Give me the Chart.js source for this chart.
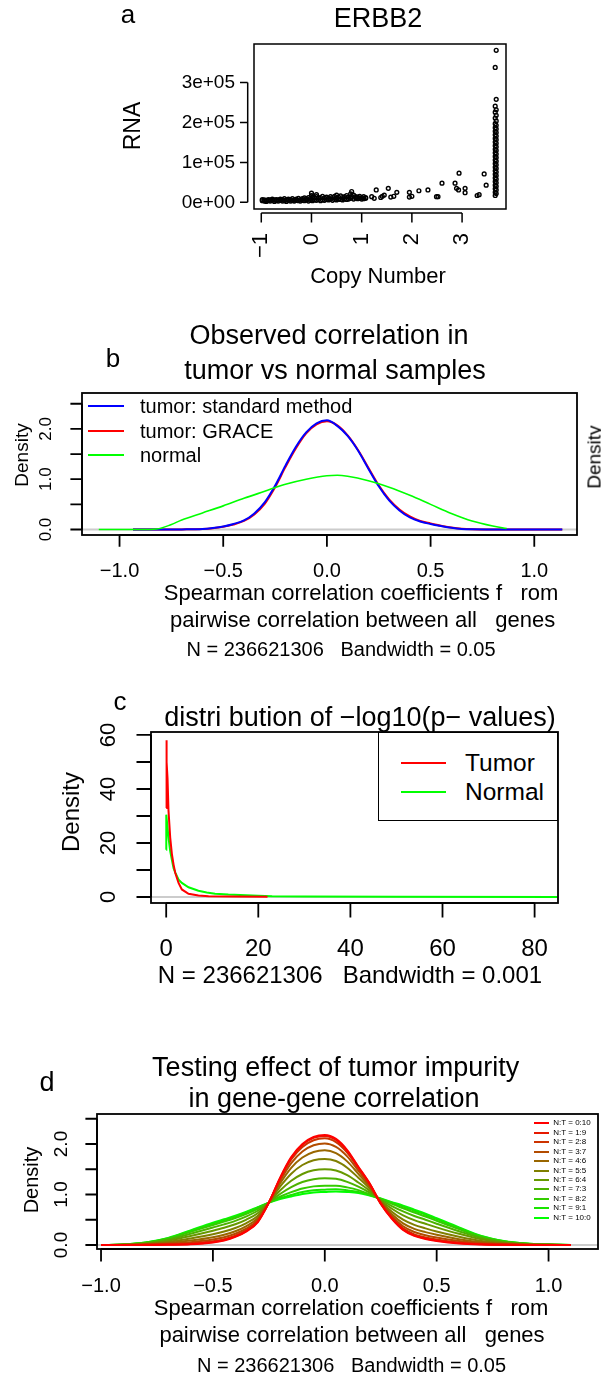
<!DOCTYPE html>
<html>
<head>
<meta charset="utf-8">
<script src="https://cdn.jsdelivr.net/npm/chart.js@4.4.1/dist/chart.umd.min.js"></script>
<style>
body { margin: 0; background: #fff; }
#page { position: relative; width: 601px; height: 1377px; overflow: hidden; font-family: "Liberation Sans", Arial, sans-serif; color: #000; }
canvas { position: absolute; left: 0; }
.t { position: absolute; white-space: pre; line-height: 1; }
.seg { position: absolute; }
</style>
</head>
<body>
<div id="page">
<canvas id="chartA" width="601" height="300" style="top:0px"></canvas>
<canvas id="chartB" width="601" height="380" style="top:300px"></canvas>
<canvas id="chartC" width="601" height="330" style="top:680px"></canvas>
<canvas id="chartD" width="601" height="367" style="top:1010px"></canvas>
</div>
<script>
// ---- panel a: ERBB2 copy number vs RNA ----
const aCopy = [
  -0.98,-0.98,-0.94,-0.94,-0.90,-0.90,-0.86,-0.86,-0.82,-0.82,-0.78,-0.78,-0.74,-0.74,-0.70,-0.70,-0.66,-0.66,-0.62,-0.62,
  -0.58,-0.58,-0.54,-0.54,-0.50,-0.50,-0.46,-0.46,-0.42,-0.42,-0.38,-0.38,-0.34,-0.34,-0.30,-0.30,-0.26,-0.26,-0.22,-0.22,
  -0.18,-0.18,-0.14,-0.14,-0.10,-0.10,-0.06,-0.06,-0.02,-0.02,
  0.00,0.00,0.00,0.02,0.02,0.06,0.06,0.10,0.10,0.10,0.14,0.14,0.18,0.18,0.22,0.22,0.26,0.26,0.30,0.30,
  0.34,0.34,0.38,0.38,0.42,0.42,0.46,0.46,0.50,0.50,0.50,0.54,0.54,0.58,0.58,0.62,0.62,0.66,0.66,0.70,0.70,
  0.74,0.74,0.78,0.78,0.80,0.80,0.84,0.84,0.88,0.88,0.92,0.92,0.96,0.96,1.00,1.00,1.04,1.04,1.08,1.08,
  1.20,1.25,1.29,1.38,1.41,1.45,1.53,1.58,1.64,1.70,1.95,1.95,2.00,2.14,2.32,2.49,2.52,2.60,2.86,2.89,
  2.93,2.94,3.06,3.06,3.30,3.34,3.44,3.48,
  3.66,3.68,3.66,3.68,3.66,3.68,3.66,3.68,3.66,3.68,3.66,3.68,3.66,3.68,3.66,3.68,3.66,3.68,3.66,3.68,
  3.66,3.68,3.66,3.68,3.66,3.68,3.66,3.68,3.66,3.68,3.66,3.68,3.66,3.68,3.66,3.68,3.66,3.68,3.66,3.68,
  3.66,3.68,3.66,3.68,3.66,3.68,3.66,3.68,3.66,3.68
];
const aRna = [
  4000,7000,3000,6000,5000,2000,4000,7000,3000,6000,5000,8000,2000,6000,4000,7000,3000,6000,5000,8000,
  3000,7000,4000,9000,2000,6000,5000,8000,3000,7000,4000,9000,3000,6000,5000,8000,4000,10000,3000,7000,
  5000,9000,4000,11000,6000,9000,3000,12000,5000,10000,
  8000,17000,23000,4000,13000,6000,11000,5000,14000,19000,7000,11000,4000,12000,6000,15000,5000,11000,7000,13000,
  6000,10000,8000,14000,5000,12000,7000,15000,6000,11000,18000,8000,13000,7000,16000,6000,12000,9000,14000,7000,17000,
  8000,13000,10000,21000,15000,27000,8000,18000,11000,14000,9000,13000,10000,15000,8000,12000,9000,14000,10000,12000,
  14000,10000,31000,12000,15000,18000,35000,13000,15000,25000,25000,13000,15000,29000,31000,14000,14000,48000,48000,35000,
  31000,73000,35000,24000,17000,19000,71000,43000,
  17000,22000,25000,31000,34000,40000,43000,49000,52000,58000,61000,67000,70000,76000,79000,85000,88000,94000,97000,103000,
  106000,112000,115000,121000,124000,130000,133000,139000,142000,148000,151000,157000,160000,166000,169000,175000,178000,184000,187000,193000,
  197000,204000,211000,218000,226000,232000,241000,258000,338000,381000
];
const aXTicks = [-1, 0, 1, 2, 3];
const aXLabels = ['\u22121', '0', '1', '2', '3'];
const aYTicks = [0, 100000, 200000, 300000];
const aYLabels = ['0e+00', '1e+05', '2e+05', '3e+05'];

// ---- panel b: observed correlation densities ----
const bGridX = [-0.935,-0.9,-0.8,-0.7,-0.6,-0.55,-0.5,-0.45,-0.4,-0.35,-0.3,-0.25,-0.2,-0.15,-0.1,-0.05,0,
  0.05,0.1,0.15,0.2,0.25,0.3,0.35,0.4,0.45,0.5,0.55,0.6,0.65,0.7,0.8,0.9,1.0,1.135];
const bStandard = [0,0,0,0.002,0.01,0.03,0.06,0.11,0.18,0.32,0.54,0.87,1.27,1.64,1.93,2.11,2.17,
  2.06,1.86,1.57,1.21,0.86,0.58,0.38,0.24,0.16,0.11,0.07,0.035,0.012,0.003,0,0,0,0];
const bGrace = [0,0,0,0.002,0.01,0.025,0.055,0.10,0.17,0.30,0.51,0.84,1.24,1.61,1.91,2.09,2.15,
  2.07,1.87,1.58,1.23,0.88,0.60,0.40,0.26,0.17,0.12,0.075,0.04,0.015,0.004,0,0,0,0];
const bNormX = [-1.1,-1.0,-0.9,-0.82,-0.75,-0.7,-0.6,-0.5,-0.4,-0.3,-0.2,-0.1,0,0.05,0.1,0.2,0.3,0.4,0.5,0.6,0.7,0.8,0.867];
const bNormal = [0,0,0,0.01,0.1,0.19,0.33,0.47,0.62,0.76,0.90,1.00,1.07,1.08,1.06,0.97,0.84,0.68,0.50,0.32,0.17,0.07,0.02];
const bXTicks = [-1, -0.5, 0, 0.5, 1];
const bXLabels = ['\u22121.0', '\u22120.5', '0.0', '0.5', '1.0'];
const bYTicks = [0, 0.5, 1, 1.5, 2, 2.5];
const bYLabels = ['0.0', '', '1.0', '', '2.0', ''];

// ---- panel c: -log10(p) densities ----
const cTumorX = [0,0.02,0.15,0.29,0.5,0.87,1.23,1.6,1.96,2.68,3.4,4.85,7.0,9.2,14,22];
const cTumorY = [33,58,50,44,32,22,16,12,9,5.2,2.8,1.2,0.6,0.3,0.15,0.05];
const cNormalX = [0,0.02,0.3,0.5,0.87,1.23,1.6,2.0,2.7,3.4,4.85,7.0,8.8,10.6,13.5,20,23,30,50,85];
const cNormalY = [17.5,30.5,25.5,22,17,13.8,10.7,8.9,6.4,5.2,3.6,2.3,1.7,1.2,0.9,0.5,0.3,0.15,0.05,0.02];
const cXTicks = [0, 20, 40, 60, 80];
const cXLabels = ['0', '20', '40', '60', '80'];
const cYTicks = [0, 10, 20, 30, 40, 50, 60];
const cYLabels = ['0', '', '20', '', '40', '', '60'];

// ---- panel d: tumor impurity mixtures ----
const dGridX = [-1.0,-0.9,-0.8,-0.7,-0.6,-0.5,-0.45,-0.4,-0.35,-0.3,-0.25,-0.2,-0.15,-0.1,-0.05,0,
  0.05,0.1,0.15,0.2,0.25,0.3,0.35,0.4,0.45,0.5,0.6,0.7,0.8,0.9,1.0,1.1];
const dMix0_10 = [0,0,0.002,0.005,0.015,0.05,0.09,0.16,0.27,0.45,0.84,1.33,1.74,2.00,2.14,2.18,2.10,1.88,1.55,1.22,0.82,0.52,0.30,0.18,0.12,0.08,0.03,0.01,0.003,0,0,0];
const dMix1_9 = [0,0,0.003,0.008,0.02,0.06,0.10,0.17,0.28,0.46,0.84,1.32,1.72,1.98,2.12,2.16,2.08,1.86,1.54,1.22,0.82,0.53,0.31,0.19,0.13,0.09,0.04,0.013,0.005,0.001,0,0];
const dMix2_8 = [0,0.001,0.005,0.013,0.032,0.073,0.115,0.185,0.293,0.468,0.84,1.305,1.693,1.941,2.074,2.112,2.038,1.83,1.519,1.206,0.826,0.54,0.329,0.211,0.15,0.107,0.049,0.02,0.008,0.002,0.001,0];
const dMix3_7 = [0,0.002,0.009,0.025,0.056,0.109,0.153,0.223,0.329,0.495,0.84,1.267,1.623,1.852,1.975,2.011,1.944,1.756,1.472,1.184,0.835,0.57,0.372,0.258,0.195,0.148,0.078,0.036,0.015,0.005,0.002,0];
const dMix4_6 = [0,0.003,0.015,0.042,0.089,0.155,0.203,0.273,0.375,0.531,0.84,1.217,1.529,1.733,1.843,1.875,1.819,1.656,1.41,1.155,0.847,0.609,0.43,0.32,0.255,0.202,0.116,0.056,0.024,0.008,0.003,0];
const dMix5_5 = [0,0.004,0.022,0.062,0.131,0.214,0.266,0.336,0.434,0.576,0.84,1.154,1.412,1.584,1.678,1.705,1.663,1.531,1.332,1.119,0.862,0.659,0.502,0.398,0.33,0.269,0.164,0.081,0.035,0.013,0.004,0];
const dMix6_4 = [0,0.006,0.031,0.086,0.18,0.284,0.342,0.412,0.504,0.63,0.84,1.078,1.272,1.406,1.48,1.502,1.476,1.382,1.238,1.076,0.88,0.718,0.588,0.492,0.42,0.35,0.222,0.112,0.049,0.018,0.006,0];
const dMix7_3 = [0,0.008,0.039,0.108,0.224,0.346,0.409,0.479,0.566,0.678,0.84,1.011,1.147,1.248,1.304,1.321,1.31,1.249,1.155,1.038,0.896,0.771,0.665,0.575,0.5,0.422,0.273,0.139,0.062,0.023,0.008,0];
const dMix8_2 = [0,0.009,0.045,0.125,0.26,0.397,0.464,0.534,0.617,0.717,0.84,0.956,1.046,1.119,1.161,1.174,1.174,1.141,1.087,1.006,0.909,0.814,0.727,0.643,0.565,0.481,0.315,0.161,0.072,0.027,0.009,0];
const dMix9_1 = [0,0.01,0.048,0.135,0.279,0.424,0.493,0.563,0.644,0.738,0.84,0.927,0.991,1.05,1.084,1.095,1.102,1.083,1.051,0.99,0.916,0.837,0.761,0.679,0.6,0.512,0.337,0.173,0.077,0.029,0.01,0];
const dMix10_0 = [0,0.01,0.05,0.14,0.29,0.44,0.51,0.58,0.66,0.75,0.84,0.91,0.96,1.01,1.04,1.05,1.06,1.05,1.03,0.98,0.92,0.85,0.78,0.70,0.62,0.53,0.35,0.18,0.08,0.03,0.01,0];
const dSeries = [dMix0_10, dMix1_9, dMix2_8, dMix3_7, dMix4_6, dMix5_5, dMix6_4, dMix7_3, dMix8_2, dMix9_1, dMix10_0];
const dNames = ['N:T = 0:10','N:T = 1:9','N:T = 2:8','N:T = 3:7','N:T = 4:6','N:T = 5:5','N:T = 6:4','N:T = 7:3','N:T = 8:2','N:T = 9:1','N:T = 10:0'];
const dColors = ['#FF0000','#E61900','#CC3300','#B24C00','#996600','#7F7F00','#669900','#4CB200','#33CC00','#19E500','#00FF00'];
const dXTicks = [-1, -0.5, 0, 0.5, 1];
const dXLabels = ['\u22121.0', '\u22120.5', '0.0', '0.5', '1.0'];
const dYTicks = [0, 0.5, 1, 1.5, 2, 2.5];
const dYLabels = ['0.0', '', '1.0', '', '2.0', ''];

const FONT = '"Liberation Sans", Arial, sans-serif';

// R-style box, ticks and tick labels, placed through the chart's own scales
function rAxes(cfg) {
  return {
    id: 'rAxes',
    beforeDatasetsDraw(chart) {
      if (!cfg.zero) return;
      const ctx = chart.ctx, a = chart.chartArea;
      const y = chart.scales.y.getPixelForValue(0);
      ctx.save();
      ctx.strokeStyle = '#cccccc';
      ctx.lineWidth = 2;
      ctx.beginPath(); ctx.moveTo(a.left, y); ctx.lineTo(a.right, y); ctx.stroke();
      ctx.restore();
    },
    afterDraw(chart) {
      const ctx = chart.ctx, a = chart.chartArea;
      const sx = chart.scales.x, sy = chart.scales.y;
      ctx.save();
      ctx.strokeStyle = '#000';
      ctx.fillStyle = '#000';
      ctx.lineWidth = cfg.lw;
      ctx.strokeRect(a.left, a.top, a.right - a.left, a.bottom - a.top);

      const X = cfg.x;
      const xs = X.ticks.map(v => sx.getPixelForValue(v));
      const y0 = a.bottom + X.gap;
      ctx.beginPath();
      ctx.moveTo(xs[0], y0); ctx.lineTo(xs[xs.length - 1], y0);
      xs.forEach(p => { ctx.moveTo(p, y0); ctx.lineTo(p, y0 + X.len); });
      ctx.stroke();
      ctx.font = X.size + 'px ' + FONT;
      ctx.textBaseline = 'middle';
      X.labels.forEach((s, i) => {
        if (!s) return;
        if (X.rot) {
          ctx.save();
          ctx.translate(xs[i], a.bottom + X.pos);
          ctx.rotate(-Math.PI / 2);
          ctx.textAlign = 'right';
          ctx.fillText(s, 0, 0);
          ctx.restore();
        } else {
          ctx.textAlign = 'center';
          ctx.fillText(s, xs[i], a.bottom + X.pos);
        }
      });

      const Y = cfg.y;
      const ys = Y.ticks.map(v => sy.getPixelForValue(v));
      const x0 = a.left - Y.gap;
      ctx.beginPath();
      ctx.moveTo(x0, ys[0]); ctx.lineTo(x0, ys[ys.length - 1]);
      ys.forEach(p => { ctx.moveTo(x0, p); ctx.lineTo(x0 - Y.len, p); });
      ctx.stroke();
      ctx.font = Y.size + 'px ' + FONT;
      Y.labels.forEach((s, i) => {
        if (!s) return;
        if (Y.rot) {
          ctx.save();
          ctx.translate(a.left - Y.pos, ys[i]);
          ctx.rotate(-Math.PI / 2);
          ctx.textAlign = 'center';
          ctx.fillText(s, 0, 0);
          ctx.restore();
        } else {
          ctx.textAlign = 'right';
          ctx.fillText(s, a.left - Y.pos, ys[i]);
        }
      });
      ctx.restore();
    }
  };
}

function baseOptions(pad, xr, yr) {
  return {
    responsive: false,
    animation: false,
    devicePixelRatio: 1,
    events: [],
    layout: { padding: pad },
    plugins: { legend: { display: false }, tooltip: { enabled: false } },
    scales: {
      x: { type: 'linear', min: xr[0], max: xr[1], display: false },
      y: { type: 'linear', min: yr[0], max: yr[1], display: false }
    }
  };
}

function pts(xs, ys) {
  return xs.map((x, i) => ({ x: x, y: ys[i] }));
}

function curve(xs, ys, color, width) {
  return {
    data: pts(xs, ys),
    borderColor: color,
    borderWidth: width,
    pointRadius: 0,
    fill: false,
    cubicInterpolationMode: 'monotone'
  };
}

// panel a
new Chart(document.getElementById('chartA'), {
  type: 'scatter',
  data: {
    datasets: [{
      data: pts(aCopy, aRna),
      borderColor: '#000',
      backgroundColor: 'rgba(0,0,0,0)',
      pointRadius: 1.9,
      borderWidth: 1.4
    }]
  },
  options: baseOptions({ left: 254, top: 44, right: 95, bottom: 91 }, [-1.145, 3.875], [-16790, 396740]),
  plugins: [rAxes({
    lw: 1.5,
    x: { ticks: aXTicks, labels: aXLabels, gap: 4, len: 9.4, pos: 24, size: 22, rot: true },
    y: { ticks: aYTicks, labels: aYLabels, gap: 6.3, len: 7.7, pos: 19, size: 19, rot: false }
  })]
});

// panel b
new Chart(document.getElementById('chartB'), {
  type: 'line',
  data: {
    datasets: [
      curve(bNormX, bNormal, '#00FF00', 1.6),
      curve(bGridX, bStandard, '#0000FF', 2),
      curve(bGridX, bGrace, '#FF0000', 2)
    ]
  },
  options: baseOptions({ left: 82, top: 93, right: 24, bottom: 145 }, [-1.181, 1.206], [-0.109, 2.714]),
  plugins: [rAxes({
    lw: 1.8, zero: true,
    x: { ticks: bXTicks, labels: bXLabels, gap: 0, len: 11.7, pos: 36.7, size: 20, rot: false },
    y: { ticks: bYTicks, labels: bYLabels, gap: 0, len: 11.6, pos: 36, size: 17, rot: true }
  })]
});

// panel c
const cTumor = curve(cTumorX, cTumorY, '#FF0000', 2);
const cNormal = curve(cNormalX, cNormalY, '#00FF00', 2);
cTumor.cubicInterpolationMode = 'default';
cNormal.cubicInterpolationMode = 'default';
new Chart(document.getElementById('chartC'), {
  type: 'line',
  data: { datasets: [cTumor, cNormal] },
  options: baseOptions({ left: 151, top: 52, right: 43, bottom: 107 }, [-3.3, 85.08], [-2.22, 61.1]),
  plugins: [rAxes({
    lw: 1.8, zero: true,
    x: { ticks: cXTicks, labels: cXLabels, gap: 0, len: 14.6, pos: 46.6, size: 24, rot: false },
    y: { ticks: cYTicks, labels: cYLabels, gap: 0, len: 14.5, pos: 41.6, size: 22, rot: true }
  })]
});

// panel d
new Chart(document.getElementById('chartD'), {
  type: 'line',
  data: { datasets: dSeries.map((s, i) => curve(dGridX, s, dColors[i], 2)) },
  options: baseOptions({ left: 97, top: 104, right: 3, bottom: 128 }, [-1.018, 1.221], [-0.079, 2.594]),
  plugins: [rAxes({
    lw: 1.8, zero: true,
    x: { ticks: dXTicks, labels: dXLabels, gap: 0, len: 12.4, pos: 37.7, size: 20, rot: false },
    y: { ticks: dYTicks, labels: dYLabels, gap: 0, len: 11.6, pos: 35.5, size: 19, rot: true }
  })]
});

// ---- text and legends ----
const page = document.getElementById('page');
function txt(s, x, y, size, rot, left) {
  const d = document.createElement('div');
  d.className = 't';
  d.textContent = s;
  d.style.left = x + 'px';
  d.style.top = y + 'px';
  d.style.fontSize = size + 'px';
  d.style.transform = (left ? 'translate(0,-50%)' : 'translate(-50%,-50%)') + (rot ? ' rotate(-90deg)' : '');
  page.appendChild(d);
}
function seg(x1, x2, y, color, w) {
  const d = document.createElement('div');
  d.className = 'seg';
  d.style.left = x1 + 'px';
  d.style.top = Math.round(y - w / 2) + 'px';
  d.style.width = (x2 - x1) + 'px';
  d.style.height = w + 'px';
  d.style.background = color;
  page.appendChild(d);
}

// a
txt('a', 128, 14, 26);
txt('ERBB2', 378, 18, 27);
txt('RNA', 132, 126, 23, true);
txt('Copy Number', 378, 276, 22);

// b
txt('b', 113, 358, 26);
txt('Observed correlation in', 329, 335, 27);
txt('tumor vs normal samples', 335, 370, 27);
txt('Density', 21, 455, 19, true);
txt('Density', 594, 457, 19, true);
const bLegend = ['tumor: standard method', 'tumor: GRACE', 'normal'];
const bLegendColors = ['#0000FF', '#FF0000', '#00FF00'];
const bLegendY = [406.3, 431.3, 454.7];
bLegend.forEach((s, i) => {
  seg(88, 124, bLegendY[i], bLegendColors[i], 2);
  txt(s, 140, bLegendY[i], 20, false, true);
});
txt('Spearman correlation coefficients f   rom', 361, 592.7, 22);
txt('pairwise correlation between all   genes', 362.6, 620, 22);
txt('N = 236621306   Bandwidth = 0.05', 341, 649.3, 20);

// c
txt('c', 120, 700.7, 26);
txt('distri bution of \u2212log10(p\u2212 values)', 360, 716.7, 27);
txt('Density', 71, 811.7, 24, true);
const box = document.createElement('div');
box.style.cssText = 'position:absolute;left:378px;top:732px;width:180px;height:89px;border:1.5px solid #000;background:#fff;box-sizing:border-box;';
page.appendChild(box);
seg(401, 446, 762.7, '#FF0000', 2);
txt('Tumor', 465, 762.7, 24.5, false, true);
seg(401, 446, 791.7, '#00FF00', 2);
txt('Normal', 465, 791.7, 24.5, false, true);
txt('N = 236621306   Bandwidth = 0.001', 350, 975, 24);

// d
txt('d', 47, 1081.7, 27);
txt('Testing effect of tumor impurity', 335.7, 1066.7, 27);
txt('in gene-gene correlation', 334, 1098.3, 27);
txt('Density', 30.8, 1180, 20, true);
dNames.forEach((s, i) => {
  const y = 1123.3 + i * 9.44;
  seg(533.5, 548.5, y, dColors[i], 2);
  txt(s, 553.3, y, 8, false, true);
});
txt('Spearman correlation coefficients f   rom', 351, 1308.3, 22);
txt('pairwise correlation between all   genes', 352, 1335, 22);
txt('N = 236621306   Bandwidth = 0.05', 351.5, 1365, 20);
</script>
</body>
</html>
